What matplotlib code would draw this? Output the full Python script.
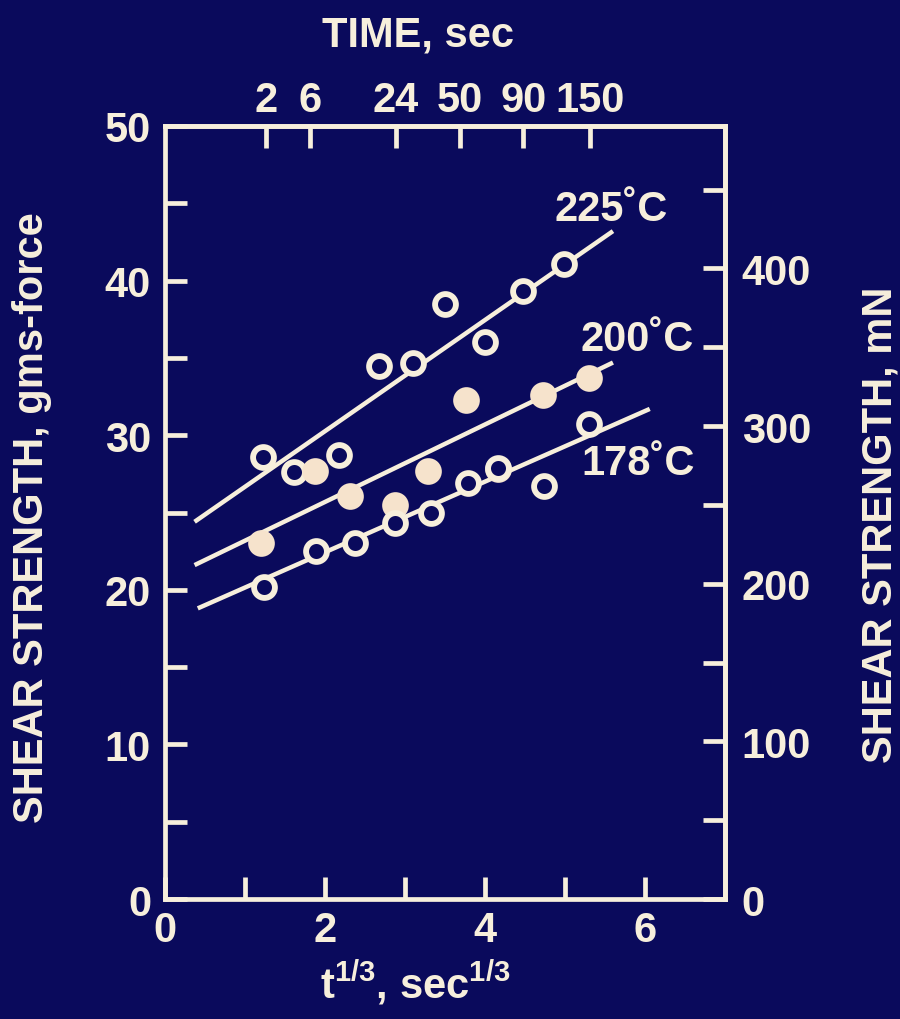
import numpy as np
import matplotlib
matplotlib.use("Agg")
import matplotlib.pyplot as plt

# ---------------- data ----------------
x225 = [1.22, 1.61, 2.17, 2.67, 3.10, 3.50, 4.00, 4.47, 4.99]
y225 = [28.6, 27.6, 28.7, 34.5, 34.7, 38.5, 36.0, 39.3, 41.1]
x200 = [1.20, 1.87, 2.31, 2.87, 3.29, 3.76, 4.16, 4.72, 5.30]
y200 = [23.0, 27.7, 26.1, 25.5, 27.7, 32.3, 27.8, 32.6, 33.7]
x178 = [1.24, 1.89, 2.37, 2.87, 3.32, 3.79, 4.16, 4.74, 5.30]
y178 = [20.2, 22.5, 23.0, 24.3, 25.0, 26.9, 27.9, 26.7, 30.7]

fit_x = {"225": [0.37, 5.60], "200": [0.37, 5.60], "178": [0.41, 6.06]}
fit_y = {"225": [24.4, 43.2], "200": [21.6, 34.7], "178": [18.8, 31.7]}

series_labels = ["225˚C", "200˚C", "178˚C"]
label_x = [4.87, 5.20, 5.20]
label_y = [44.6, 36.2, 28.2]

time_ticks = [2, 6, 24, 50, 90, 150]
gf_to_mN = 9.80665

# ---------------- style ----------------
BG = "#0a0a5c"
INK = "#f7efdc"
FILL = "#f6e3cc"
plt.rcParams["font.family"] = ["Liberation Sans", "DejaVu Sans"]
plt.rcParams["font.weight"] = "bold"
plt.rcParams["mathtext.fontset"] = "custom"
plt.rcParams["mathtext.bf"] = "Liberation Sans:bold"
FS = 30
LW = 3.4

fig = plt.figure(figsize=(9, 10.2), dpi=100, facecolor=BG)
ax = fig.add_axes([0.1833, 0.1176, 0.6222, 0.7579], facecolor=BG)

ax.set_xlim(0, 7)
ax.set_ylim(0, 50)

for k in ["225", "200", "178"]:
    ax.plot(fit_x[k], fit_y[k], color=INK, lw=3.2, solid_capstyle="butt", zorder=2)

ms = 15
mew = 4.2
ax.plot(x225, y225, "o", ms=ms, mfc=BG, mec=INK, mew=mew, ls="none", zorder=3)
ax.plot(x200, y200, "o", ms=ms, mfc=FILL, mec=FILL, mew=mew, ls="none", zorder=3)
ax.plot(x178, y178, "o", ms=ms, mfc=BG, mec=INK, mew=mew, ls="none", zorder=4)

for s, lx, ly in zip(series_labels, label_x, label_y):
    ax.text(lx, ly, s, color=INK, fontsize=FS, fontweight="bold", ha="left", va="center")

for sp in ax.spines.values():
    sp.set_color(INK)
    sp.set_linewidth(LW)

ax.set_xticks(np.arange(0, 7, 2))
ax.set_xticks(np.arange(1, 7, 1), minor=True)
ax.set_yticks(np.arange(0, 51, 10))
ax.set_yticks(np.arange(5, 50, 10), minor=True)
ax.tick_params(which="both", direction="in", color=INK, width=LW, length=16,
               labelcolor=INK, labelsize=FS)
ax.tick_params(axis="x", which="major", pad=8)
ax.tick_params(axis="y", which="major", pad=10)
for lab in ax.get_xticklabels() + ax.get_yticklabels():
    lab.set_fontweight("bold")

# top time axis
axt = ax.secondary_xaxis("top", functions=(lambda v: np.sign(v) * np.abs(v) ** 3,
                                            lambda t: np.sign(t) * np.abs(t) ** (1 / 3)))
axt.set_xticks(time_ticks)
axt.set_xticks([], minor=True)
axt.tick_params(direction="in", color=INK, width=LW, length=16, labelcolor=INK,
                labelsize=FS, pad=4)
axt.spines["top"].set_color(INK)
axt.spines["top"].set_linewidth(LW)
for lab in axt.get_xticklabels():
    lab.set_fontweight("bold")

# right mN axis
axr = ax.secondary_yaxis("right", functions=(lambda g: g * gf_to_mN, lambda m: m / gf_to_mN))
axr.set_yticks(np.arange(0, 401, 100))
axr.set_yticks(np.arange(50, 451, 100), minor=True)
axr.tick_params(which="both", direction="in", color=INK, width=LW, length=16,
                labelcolor=INK, labelsize=FS, pad=12)
axr.spines["right"].set_color(INK)
axr.spines["right"].set_linewidth(LW)
for lab in axr.get_yticklabels():
    lab.set_fontweight("bold")

fig.text(0.464, 0.965, "TIME, sec", color=INK, fontsize=FS, fontweight="bold",
         ha="center", va="center")
fig.text(0.461, 0.036, r"t$^{\mathbf{1/3}}$, sec$^{\mathbf{1/3}}$", color=INK, fontsize=FS,
         fontweight="bold", ha="center", va="center")
fig.text(0.036, 0.493, "SHEAR STRENGTH, gms-force", color=INK, fontsize=FS,
         fontweight="bold", ha="center", va="center", rotation=90)
fig.text(0.978, 0.485, "SHEAR STRENGTH, mN", color=INK, fontsize=FS,
         fontweight="bold", ha="center", va="center", rotation=90)

fig.savefig("out.png", dpi=100, facecolor=BG)
